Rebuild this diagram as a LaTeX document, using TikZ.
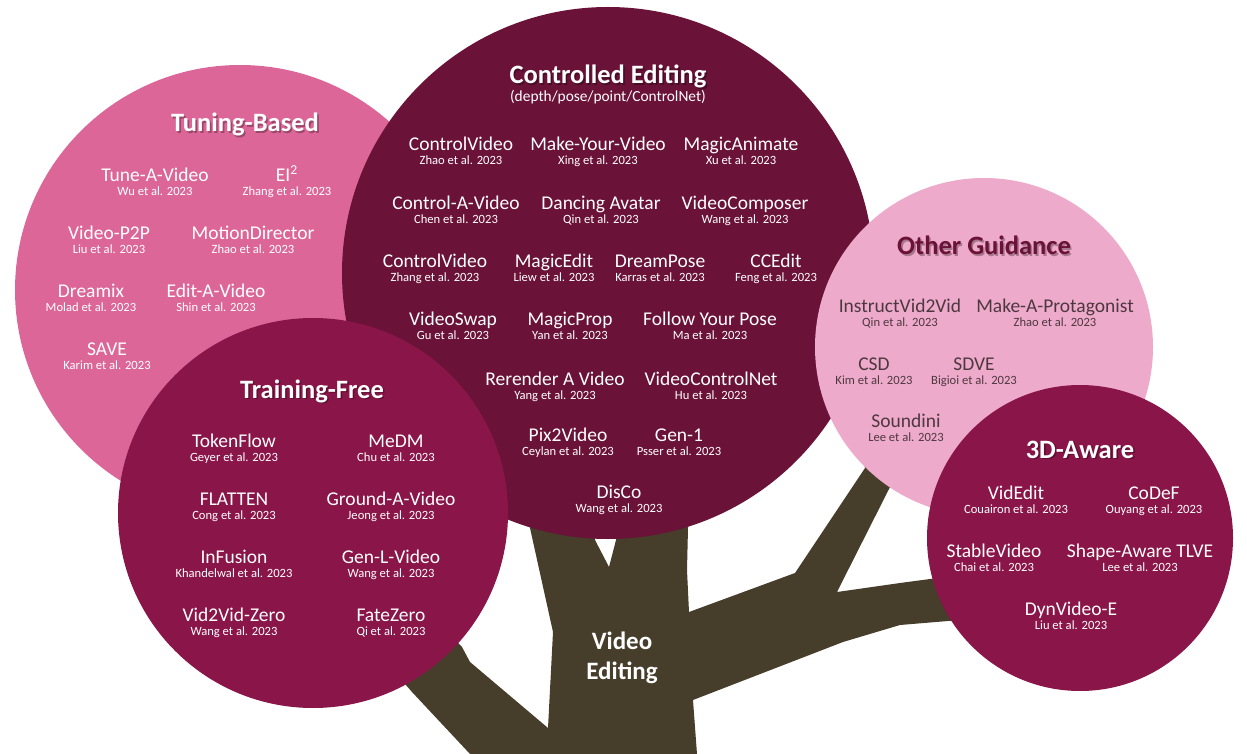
\documentclass[tikz,border=0pt]{standalone}
\usepackage{fontspec}
\setmainfont{Carlito}
\definecolor{tunepink}{HTML}{DD6699}
\definecolor{ctrldark}{HTML}{6A1238}
\definecolor{trainred}{HTML}{8A1548}
\definecolor{otherpink}{HTML}{EEAACB}
\definecolor{trunkcol}{HTML}{463D2B}
\definecolor{othertxt}{HTML}{4E3840}
\definecolor{othertitle}{HTML}{6A1238}
\tikzset{
  nm/.style={font=\fontsize{9.75}{11}\selectfont, text=white, inner sep=0pt, anchor=base},
  au/.style={font=\fontsize{6.3}{7}\selectfont, text=white, inner sep=0pt, anchor=base},
  ttl/.style={font=\bfseries\fontsize{13.25}{15}\selectfont, text=white, inner sep=0pt, anchor=base},
  shd/.style={font=\bfseries\fontsize{13.25}{15}\selectfont, text=black, opacity=0.3, inner sep=0pt, anchor=base},
  dk/.style={text=othertxt},
}
\newcommand\pp[5][]{%
  \node[nm,#1] (#2) at (#3) {#4};
  \node[au,#1] (#2a) at ([yshift=-7.15pt]#2.base) {#5};}
\newcommand\ttlnode[4][]{%
  \node[shd] (#2s) at ([xshift=0.8pt,yshift=-0.8pt]#3) {#4};
  \node[ttl,#1] (#2) at (#3) {#4};}
\begin{document}
\begin{tikzpicture}[x=0.5pt,y=-0.5pt]
\useasboundingbox (0,0) rectangle (1247,754);
% trunk
\fill[trunkcol] (470,754) -- (412,692) -- (380,655) -- (440,625) -- (462,647) -- (470,662)
  -- (548,728) -- (553,632) -- (530,528) -- (525,500) -- (595,500) -- (595,540) -- (609,567)
  -- (616,540) -- (616,500) -- (688,500) -- (688,528) -- (687,570) -- (689,612) -- (795,573)
  -- (865,468) -- (860,440) -- (900,455) -- (890,487) -- (837,592) -- (900,583) -- (960,575)
  -- (960,620) -- (900,625) -- (843,642) -- (693,700) -- (697,754) -- cycle;
% circles
\fill[tunepink] (240,290) circle[radius=112.5pt];
\fill[ctrldark] (608,273) circle[radius=133pt];
\fill[trainred] (313,513) circle[radius=97.5pt];
\fill[otherpink] (984,347) circle[radius=84.5pt];
\fill[trainred] (1080,538) circle[radius=76.5pt];

% Tuning-Based
\ttlnode{tbt}{245,132}{Tuning-Based}
\pp{tav}{155,181.5}{Tune-A-Video}{Wu et al. 2023}
\pp{eii}{287,181.5}{EI\textsuperscript{2}}{Zhang et al. 2023}
\pp{vpp}{109,239.5}{Video-P2P}{Liu et al. 2023}
\pp{mdr}{253,239.5}{MotionDirector}{Zhao et al. 2023}
\pp{dmx}{91,297.5}{Dreamix}{Molad et al. 2023}
\pp{eav}{216,297.5}{Edit-A-Video}{Shin et al. 2023}
\pp{sav}{107,355.5}{SAVE}{Karim et al. 2023}

% Controlled Editing
\ttlnode{cet}{608,83.5}{Controlled Editing}
\node[au,font=\fontsize{7.7}{9}\selectfont] (ces) at (608,102) {(depth/pose/point/ControlNet)};
\pp{cv1}{461,150.5}{ControlVideo}{Zhao et al. 2023}
\pp{myv}{598,150.5}{Make-Your-Video}{Xing et al. 2023}
\pp{man}{741,150.5}{MagicAnimate}{Xu et al. 2023}
\pp{cav}{456,209.5}{Control-A-Video}{Chen et al. 2023}
\pp{dav}{601,209.5}{Dancing Avatar}{Qin et al. 2023}
\pp{vcp}{745,209.5}{VideoComposer}{Wang et al. 2023}
\pp{cv2}{435,267.5}{ControlVideo}{Zhang et al. 2023}
\pp{med}{554,267.5}{MagicEdit}{Liew et al. 2023}
\pp{dps}{660,267.5}{DreamPose}{Karras et al. 2023}
\pp{cce}{776,267.5}{CCEdit}{Feng et al. 2023}
\pp{vsw}{453,325.5}{VideoSwap}{Gu et al. 2023}
\pp{mpr}{570,325.5}{MagicProp}{Yan et al. 2023}
\pp{fyp}{710,325.5}{Follow Your Pose}{Ma et al. 2023}
\pp{rav}{555,385.5}{Rerender A Video}{Yang et al. 2023}
\pp{vcn}{711,385.5}{VideoControlNet}{Hu et al. 2023}
\pp{p2v}{568,441.5}{Pix2Video}{Ceylan et al. 2023}
\pp{gen}{679,441.5}{Gen-1}{Psser et al. 2023}
\pp{dis}{619,498.5}{DisCo}{Wang et al. 2023}

% Training-Free
\ttlnode{tft}{312,398}{Training-Free}
\pp{tkf}{234,447.5}{TokenFlow}{Geyer et al. 2023}
\pp{mdm}{396,447.5}{MeDM}{Chu et al. 2023}
\pp{flt}{234,505.5}{FLATTEN}{Cong et al. 2023}
\pp{gav}{391,505.5}{Ground-A-Video}{Jeong et al. 2023}
\pp{inf}{234,563.5}{InFusion}{Khandelwal et al. 2023}
\pp{glv}{391,563.5}{Gen-L-Video}{Wang et al. 2023}
\pp{v2z}{234,621.5}{Vid2Vid-Zero}{Wang et al. 2023}
\pp{fzr}{391,621.5}{FateZero}{Qi et al. 2023}

% Other Guidance
\ttlnode[text=othertitle]{ogt}{984,255}{Other Guidance}
\pp[dk]{iv2}{900,312.5}{InstructVid2Vid}{Qin et al. 2023}
\pp[dk]{map}{1055,312.5}{Make-A-Protagonist}{Zhao et al. 2023}
\pp[dk]{csd}{874,370.5}{CSD}{Kim et al. 2023}
\pp[dk]{sdv}{974,370.5}{SDVE}{Bigioi et al. 2023}
\pp[dk]{snd}{906,427.5}{Soundini}{Lee et al. 2023}

% 3D-Aware
\ttlnode{tdt}{1080,458}{3D-Aware}
\pp{ved}{1016,499.5}{VidEdit}{Couairon et al. 2023}
\pp{cdf}{1154,499.5}{CoDeF}{Ouyang et al. 2023}
\pp{stv}{994,557.5}{StableVideo}{Chai et al. 2023}
\pp{sat}{1140,557.5}{Shape-Aware TLVE}{Lee et al. 2023}
\pp{dve}{1071,615.5}{DynVideo-E}{Liu et al. 2023}

% root label
\node[ttl,font=\bfseries\fontsize{12.5}{14}\selectfont] (vid) at (622,649) {Video};
\node[ttl,font=\bfseries\fontsize{12.5}{14}\selectfont] (edt) at (622,679) {Editing};
\end{tikzpicture}
\end{document}
